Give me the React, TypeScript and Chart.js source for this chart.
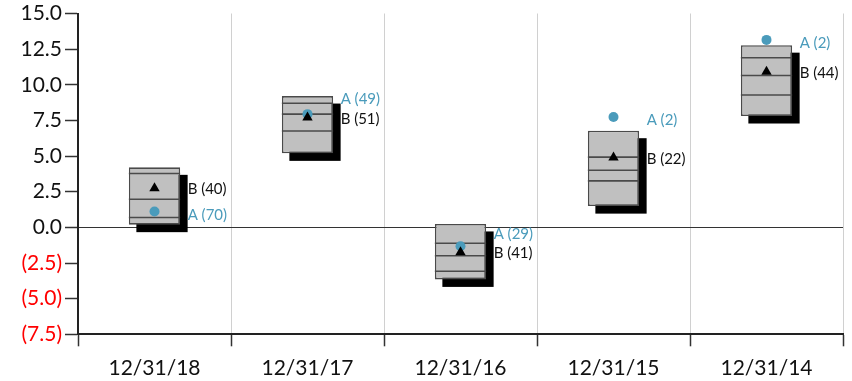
import React, { useEffect, useRef } from "react";
import { Chart, registerables } from "chart.js";

Chart.register(...registerables);

const categories = ["12/31/18", "12/31/17", "12/31/16", "12/31/15", "12/31/14"];
const boxLow = [0.19, 5.19, -3.65, 1.49, 7.81];
const boxHigh = [4.21, 9.21, 0.24, 6.78, 12.78];
const lineUpper = [3.78, 8.71, -1.11, 4.93, 11.9];
const lineMid = [1.97, 7.94, -1.99, 4.01, 10.65];
const lineLower = [0.69, 6.76, -3.08, 3.26, 9.28];
const seriesA = [1.11, 7.94, -1.32, 7.74, 13.15];
const seriesB = [2.75, 7.71, -1.74, 4.9, 10.92];
const countsA = [70, 49, 29, 2, 2];
const countsB = [40, 51, 41, 22, 44];
const yMin = -7.5;
const yMax = 15;
const yStep = 2.5;

const TEAL = "#4a9bbb";
const FONT = "Lato";
const SHADOW = 7.5;

const overlay = {
  id: "overlay",
  beforeDatasetDraw(chart: any, args: any) {
    if (args.index !== 0) return;
    const ctx = chart.ctx;
    const meta = chart.getDatasetMeta(0);
    ctx.save();
    ctx.fillStyle = "#000";
    meta.data.forEach((el: any) => {
      const { x, y, base, width } = el.getProps(["x", "y", "base", "width"], true);
      const top = Math.min(y, base);
      const h = Math.abs(base - y);
      ctx.fillRect(x - width / 2 + SHADOW, top + SHADOW, width, h);
    });
    ctx.restore();
  },
  afterDatasetDraw(chart: any, args: any) {
    if (args.index !== 0) return;
    const ctx = chart.ctx;
    const ys = chart.scales.y;
    const meta = chart.getDatasetMeta(0);
    ctx.save();
    ctx.strokeStyle = "#4a4a4a";
    ctx.lineWidth = 1.6;
    meta.data.forEach((el: any, i: number) => {
      const { x, width } = el.getProps(["x", "width"], true);
      [lineUpper, lineMid, lineLower].forEach((arr) => {
        const py = ys.getPixelForValue(arr[i]);
        ctx.beginPath();
        ctx.moveTo(x - width / 2, py);
        ctx.lineTo(x + width / 2, py);
        ctx.stroke();
      });
    });
    ctx.restore();
  },
  afterDatasetsDraw(chart: any) {
    const ctx = chart.ctx;
    const box = chart.getDatasetMeta(0).data;
    const ma = chart.getDatasetMeta(1).data;
    const mb = chart.getDatasetMeta(2).data;
    ctx.save();
    ctx.font = `15px ${FONT}`;
    ctx.textBaseline = "middle";
    ctx.textAlign = "left";
    box.forEach((el: any, i: number) => {
      const { x, width } = el.getProps(["x", "width"], true);
      const lx = x + width / 2 + SHADOW;
      const yb = mb[i].y + 1.3;
      let ya = ma[i].y + 3.4;
      if (Math.abs(ya - yb) < 19) {
        ya = ma[i].y <= mb[i].y ? yb - 19.5 : yb + 19.5;
      }
      ctx.fillStyle = TEAL;
      ctx.fillText(`A (${countsA[i]})`, lx, ya);
      ctx.fillStyle = "#111";
      ctx.fillText(`B (${countsB[i]})`, lx, yb);
    });
    ctx.restore();
  },
};

export default function App() {
  const ref = useRef<HTMLCanvasElement | null>(null);
  useEffect(() => {
    document.body.style.margin = "0";
    const canvas = ref.current;
    if (!canvas) return;
    const n = categories.length;
    const chart = new Chart(canvas, {
      type: "bar",
      data: {
        labels: categories,
        datasets: [
          {
            type: "bar",
            label: "Range",
            data: categories.map((_, i) => [boxLow[i], boxHigh[i]]) as any,
            backgroundColor: "#c0c0c0",
            borderColor: "#4a4a4a",
            borderWidth: 1.6,
            borderSkipped: false,
            barPercentage: 0.335,
            categoryPercentage: 1,
            order: 3,
          } as any,
          {
            type: "line",
            label: "A",
            data: seriesA,
            showLine: false,
            pointStyle: "circle",
            pointRadius: 5,
            pointBackgroundColor: TEAL,
            pointBorderWidth: 0,
            borderColor: TEAL,
            order: 2,
          } as any,
          {
            type: "line",
            label: "B",
            data: seriesB,
            showLine: false,
            pointStyle: "triangle",
            pointRadius: 6,
            pointBackgroundColor: "#000",
            pointBorderWidth: 0,
            borderColor: "#000",
            order: 1,
          } as any,
        ],
      },
      options: {
        responsive: false,
        animation: false,
        events: [],
        layout: { padding: { top: 10.7, right: 9, bottom: 0, left: 0 } },
        plugins: { legend: { display: false }, tooltip: { enabled: false } },
        scales: {
          x: {
            offset: true,
            grid: {
              offset: true,
              color: (c: any) => (c.index === n ? "#111" : "#d0d0d0"),
              lineWidth: (c: any) => (c.index === n ? 2 : 1),
              tickColor: "#333",
              tickLength: 12,
              tickWidth: 1.5,
            },
            border: { color: "#222", width: 2 },
            ticks: {
              color: "#111",
              font: { family: FONT, size: 21 },
              padding: 9,
              maxRotation: 0,
            },
            afterFit: (s: any) => {
              s.height = 46.7;
            },
          },
          y: {
            min: yMin,
            max: yMax,
            grid: {
              color: (c: any) => (c.tick && c.tick.value === 0 ? "#333" : "rgba(0,0,0,0)"),
              lineWidth: 1,
              tickColor: "#333",
              tickLength: 13,
              tickWidth: 1.5,
            },
            border: { color: "#222", width: 2 },
            ticks: {
              stepSize: yStep,
              padding: 3,
              font: { family: FONT, size: 21, lineHeight: 1 },
              color: (c: any) => (c.tick.value < 0 ? "#ff0000" : "#111"),
              callback: (v: any) => {
                const num = Number(v);
                return num < 0 ? `(${Math.abs(num).toFixed(1)})` : num.toFixed(1);
              },
            },
            afterFit: (s: any) => {
              s.width = 78;
            },
          },
        },
      },
      plugins: [overlay],
    });
    return () => chart.destroy();
  }, []);
  return (
    <div style={{ width: 852, height: 381 }}>
      <canvas ref={ref} width={852} height={381} style={{ display: "block" }} />
    </div>
  );
}
